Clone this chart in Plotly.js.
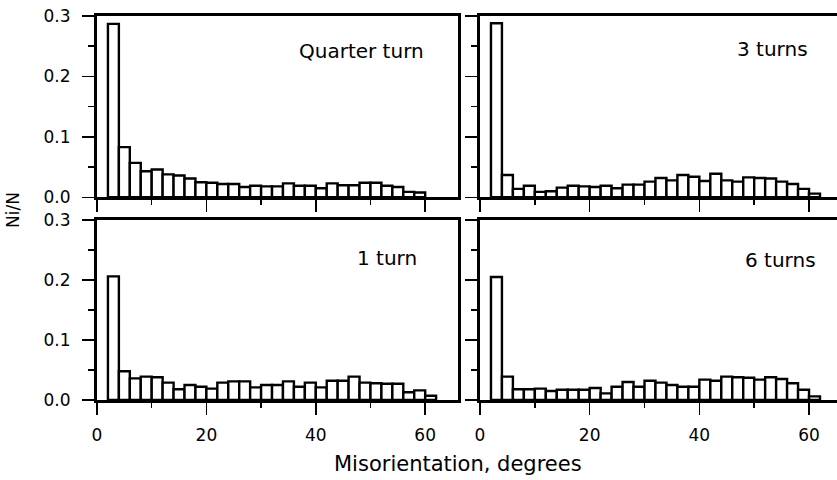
<!DOCTYPE html>
<html>
<head>
<meta charset="utf-8">
<script src="https://cdn.plot.ly/plotly-3.0.1.min.js"></script>
<style>
  html, body { margin: 0; padding: 0; background: #fff; }
  #chart { width: 837px; height: 480px; }
</style>
</head>
<body>
<div id="chart"></div>
<script>
// Bin centres (degrees) – 2-degree bins starting at 2 degrees
const binCenters = [3, 5, 7, 9, 11, 13, 15, 17, 19, 21, 23, 25, 27, 29, 31,
                    33, 35, 37, 39, 41, 43, 45, 47, 49, 51, 53, 55, 57, 59, 61];

// Ni/N values
const quarterTurn = [0.287, 0.083, 0.057, 0.043, 0.046, 0.038, 0.036, 0.031, 0.025, 0.024,
                     0.022, 0.022, 0.017, 0.019, 0.018, 0.018, 0.023, 0.019, 0.019, 0.015,
                     0.023, 0.020, 0.020, 0.024, 0.024, 0.019, 0.017, 0.009, 0.008];
const threeTurns  = [0.288, 0.037, 0.014, 0.019, 0.009, 0.010, 0.016, 0.019, 0.018, 0.017,
                     0.019, 0.015, 0.021, 0.021, 0.026, 0.032, 0.028, 0.037, 0.034, 0.027,
                     0.039, 0.028, 0.026, 0.033, 0.032, 0.031, 0.026, 0.022, 0.014, 0.006];
const oneTurn     = [0.206, 0.048, 0.036, 0.039, 0.038, 0.029, 0.018, 0.025, 0.022, 0.019,
                     0.029, 0.031, 0.031, 0.021, 0.025, 0.025, 0.031, 0.022, 0.029, 0.021,
                     0.032, 0.032, 0.039, 0.029, 0.028, 0.027, 0.027, 0.013, 0.016, 0.007];
const sixTurns    = [0.205, 0.039, 0.018, 0.018, 0.019, 0.015, 0.017, 0.017, 0.017, 0.020,
                     0.011, 0.022, 0.030, 0.022, 0.032, 0.029, 0.025, 0.022, 0.022, 0.034,
                     0.032, 0.039, 0.038, 0.037, 0.034, 0.038, 0.035, 0.028, 0.017, 0.006];

const panelLabels = ["Quarter turn", "3 turns", "1 turn", "6 turns"];
const xTickVals = [0, 20, 40, 60];
const yTickVals = [0, 0.1, 0.2, 0.3];
const yTickText = ["0.0", "0.1", "0.2", "0.3"];
const xTitle = "Misorientation, degrees";
const yTitle = "Ni/N";

const FONT = "DejaVu Sans, Liberation Sans, Arial, sans-serif";
const W = 837, H = 480;

function barTrace(vals, xa, ya) {
  return {
    type: "bar",
    x: binCenters.slice(0, vals.length),
    y: vals,
    width: 2,
    xaxis: xa, yaxis: ya,
    marker: { color: "#ffffff", line: { color: "#000000", width: 2.4 } },
    hoverinfo: "x+y",
    showlegend: false
  };
}

const data = [
  barTrace(quarterTurn, "x", "y"),
  barTrace(threeTurns, "x2", "y2"),
  barTrace(oneTurn, "x3", "y3"),
  barTrace(sixTurns, "x4", "y4")
];

const leftDom = [97 / W, 458 / W];
const rightDom = [480 / W, 1];
const topDom = [1 - 197.3 / H, 1 - 16 / H];
const botDom = [1 - 400 / H, 1 - 220 / H];

function xAxis(dom, anchor, range, labels) {
  return {
    domain: dom, anchor: anchor, range: range,
    showgrid: false, zeroline: false,
    showline: true, linecolor: "#000", linewidth: 3, mirror: true,
    ticks: "outside", ticklen: 12, tickwidth: 1.5, tickcolor: "#000",
    tickvals: xTickVals, ticktext: xTickVals.map(String),
    showticklabels: labels,
    tickfont: { family: FONT, size: 17, color: "#000" },
    ticklabelstandoff: 6,
    minor: { tickvals: [10, 30, 50], ticks: "outside", ticklen: 5, tickwidth: 1.5, tickcolor: "#000", showgrid: false },
    fixedrange: true
  };
}
function yAxis(dom, anchor, labels, mirror) {
  return {
    domain: dom, anchor: anchor, range: [0, 0.3],
    showgrid: false, zeroline: false,
    showline: true, linecolor: "#000", linewidth: 3, mirror: mirror,
    ticks: "outside", ticklen: 12, tickwidth: 1.5, tickcolor: "#000",
    tickvals: yTickVals, ticktext: yTickText,
    showticklabels: labels,
    tickfont: { family: FONT, size: 17, color: "#000" },
    ticklabelstandoff: 8,
    minor: { tickvals: [0.05, 0.15, 0.25], ticks: "outside", ticklen: 6, tickwidth: 1.5, tickcolor: "#000", showgrid: false },
    fixedrange: true
  };
}

function px2x(px) { return px / W; }
function px2y(py) { return 1 - py / H; }

const annFont = { family: FONT, size: 20, color: "#000" };
const layout = {
  width: W, height: H,
  margin: { l: 0, r: 0, t: 0, b: 0, pad: 0 },
  paper_bgcolor: "#fff", plot_bgcolor: "#fff",
  bargap: 0,
  font: { family: FONT, color: "#000" },
  xaxis:  xAxis(leftDom, "y", [0, 66], false),
  yaxis:  yAxis(topDom, "x", true, true),
  xaxis2: xAxis(rightDom, "y2", [0, 65.1], false),
  yaxis2: yAxis(topDom, "x2", false, false),
  xaxis3: xAxis(leftDom, "y3", [0, 66], true),
  yaxis3: yAxis(botDom, "x3", true, true),
  xaxis4: xAxis(rightDom, "y4", [0, 65.1], true),
  yaxis4: yAxis(botDom, "x4", false, false),
  annotations: [
    { text: panelLabels[0], xref: "paper", yref: "paper", x: px2x(361), y: px2y(51), xanchor: "center", yanchor: "middle", showarrow: false, font: annFont },
    { text: panelLabels[1], xref: "paper", yref: "paper", x: px2x(772), y: px2y(49), xanchor: "center", yanchor: "middle", showarrow: false, font: annFont },
    { text: panelLabels[2], xref: "paper", yref: "paper", x: px2x(387), y: px2y(258), xanchor: "center", yanchor: "middle", showarrow: false, font: annFont },
    { text: panelLabels[3], xref: "paper", yref: "paper", x: px2x(780), y: px2y(260), xanchor: "center", yanchor: "middle", showarrow: false, font: annFont },
    { text: xTitle, xref: "paper", yref: "paper", x: px2x(458), y: px2y(464), xanchor: "center", yanchor: "middle", showarrow: false, font: { family: FONT, size: 21, color: "#000" } },
    { text: yTitle, xref: "paper", yref: "paper", x: px2x(13), y: px2y(210), xanchor: "center", yanchor: "middle", textangle: -90, showarrow: false, font: { family: FONT, size: 17, color: "#000" } }
  ]
};

Plotly.newPlot("chart", data, layout, { staticPlot: true, displayModeBar: false });
</script>
</body>
</html>
